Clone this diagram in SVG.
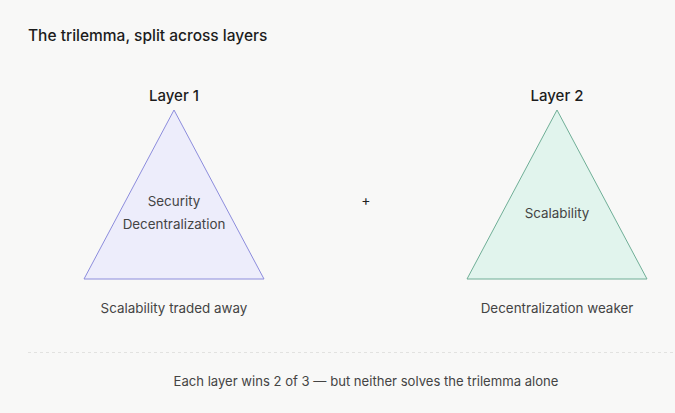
<svg xmlns="http://www.w3.org/2000/svg" width="675" height="413" viewBox="0 0 675 413">
<style>
text{font-family:Inter,"Liberation Sans",sans-serif}
.title{font-size:15.5px;font-weight:500;fill:#1c1c1c}
.head{font-size:15px;font-weight:500;fill:#1c1c1c;text-anchor:middle}
.lbl{font-size:13.4px;fill:#444;text-anchor:middle}
.foot{font-size:13.1px;fill:#444;text-anchor:middle}
.t1{fill:#ededfb;stroke:#8c8cdc;stroke-width:1}
.t2{fill:#e1f4ed;stroke:#6fae96;stroke-width:1}
</style>
<rect width="675" height="413" fill="#f8f8f7"/>
<text class="title" x="28" y="41">The trilemma, split across layers</text>
<g id="layer1">
<text class="head" x="174" y="101">Layer 1</text>
<polygon class="t1" points="174,110 264,279 84,279"/>
<text class="lbl" x="174" y="206">Security</text>
<text class="lbl" x="174" y="229">Decentralization</text>
<text class="lbl" x="174" y="313">Scalability traded away</text>
</g>
<g id="plus"><text class="lbl" x="366" y="205" style="fill:#222;font-size:14px">+</text></g>
<g id="layer2">
<text class="head" x="557" y="101">Layer 2</text>
<polygon class="t2" points="557,110 647,279 467,279"/>
<text class="lbl" x="557" y="218">Scalability</text>
<text class="lbl" x="557" y="313">Decentralization weaker</text>
</g>
<g id="connectors">
<line x1="28" y1="352.5" x2="675" y2="352.5" stroke="#e2e2e0" stroke-width="1" stroke-dasharray="3,3"/>
</g>
<g id="footer"><text class="foot" x="366" y="386">Each layer wins 2 of 3 — but neither solves the trilemma alone</text></g>
</svg>
